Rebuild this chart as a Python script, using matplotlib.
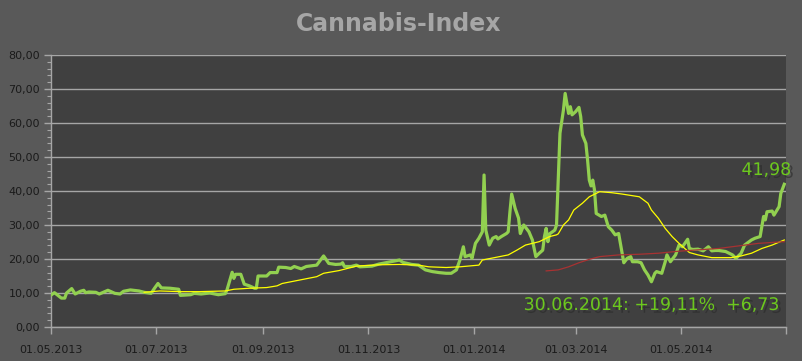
import matplotlib
matplotlib.use('Agg')
import matplotlib.pyplot as plt
import matplotlib.patheffects as pe
import pandas as pd

# ---- data ----
index_dates = [
    "2013-05-01", "2013-05-03", "2013-05-07", "2013-05-09", "2013-05-10", "2013-05-13", "2013-05-15",
    "2013-05-18", "2013-05-20", "2013-05-21", "2013-05-23", "2013-05-27", "2013-05-29", "2013-06-03",
    "2013-06-07", "2013-06-10", "2013-06-12", "2013-06-16", "2013-06-21", "2013-06-24", "2013-06-28",
    "2013-06-30", "2013-07-02", "2013-07-04", "2013-07-09", "2013-07-14", "2013-07-15", "2013-07-21",
    "2013-07-23", "2013-07-27", "2013-08-01", "2013-08-06", "2013-08-10", "2013-08-11", "2013-08-14",
    "2013-08-15", "2013-08-16", "2013-08-19", "2013-08-21", "2013-08-24", "2013-08-27", "2013-08-28",
    "2013-08-29", "2013-09-03", "2013-09-05", "2013-09-09", "2013-09-10", "2013-09-14", "2013-09-17",
    "2013-09-19", "2013-09-23", "2013-09-26", "2013-10-02", "2013-10-06", "2013-10-09", "2013-10-13",
    "2013-10-16", "2013-10-17", "2013-10-18", "2013-10-22", "2013-10-25", "2013-10-27", "2013-11-03",
    "2013-11-07", "2013-11-13", "2013-11-19", "2013-11-21", "2013-11-26", "2013-11-30", "2013-12-04",
    "2013-12-08", "2013-12-12", "2013-12-16", "2013-12-19", "2013-12-22", "2013-12-24", "2013-12-26",
    "2013-12-27", "2013-12-30", "2013-12-31", "2014-01-02", "2014-01-04", "2014-01-06", "2014-01-07",
    "2014-01-08", "2014-01-10", "2014-01-12", "2014-01-14", "2014-01-15", "2014-01-17", "2014-01-20",
    "2014-01-21", "2014-01-22", "2014-01-23", "2014-01-25", "2014-01-27", "2014-01-28", "2014-01-30",
    "2014-02-02", "2014-02-04", "2014-02-06", "2014-02-08", "2014-02-10", "2014-02-11", "2014-02-12",
    "2014-02-13", "2014-02-14", "2014-02-17", "2014-02-18", "2014-02-19", "2014-02-20", "2014-02-22",
    "2014-02-23", "2014-02-25", "2014-02-26", "2014-02-27", "2014-03-01", "2014-03-03", "2014-03-04",
    "2014-03-05", "2014-03-07", "2014-03-08", "2014-03-09", "2014-03-10", "2014-03-11", "2014-03-12",
    "2014-03-13", "2014-03-16", "2014-03-18", "2014-03-20", "2014-03-22", "2014-03-24", "2014-03-26",
    "2014-03-28", "2014-03-29", "2014-03-31", "2014-04-02", "2014-04-03", "2014-04-06", "2014-04-08",
    "2014-04-10", "2014-04-12", "2014-04-14", "2014-04-16", "2014-04-17", "2014-04-20", "2014-04-22",
    "2014-04-23", "2014-04-25", "2014-04-28", "2014-04-30", "2014-05-02", "2014-05-05", "2014-05-06",
    "2014-05-08", "2014-05-11", "2014-05-14", "2014-05-17", "2014-05-19", "2014-05-21", "2014-05-23",
    "2014-05-27", "2014-05-31", "2014-06-02", "2014-06-03", "2014-06-05", "2014-06-07", "2014-06-11",
    "2014-06-13", "2014-06-16", "2014-06-17", "2014-06-18", "2014-06-19", "2014-06-20", "2014-06-23",
    "2014-06-24", "2014-06-27", "2014-06-28", "2014-06-30",
]
index_values = [
    9.4, 10.1, 8.5, 8.5, 10.0, 11.3, 9.7,
    10.5, 10.8, 10.1, 10.3, 10.2, 9.7, 10.8,
    9.9, 9.7, 10.5, 10.9, 10.6, 10.2, 9.9,
    11.4, 12.8, 11.5, 11.4, 11.1, 9.3, 9.5,
    9.9, 9.7, 10.0, 9.5, 9.8, 10.9, 16.1,
    14.3, 15.5, 15.5, 12.6, 12.1, 11.4, 11.4,
    15.0, 15.0, 16.0, 16.0, 17.6, 17.5, 17.2,
    17.8, 17.1, 17.8, 18.2, 20.9, 18.7, 18.4,
    18.5, 18.9, 17.8, 17.8, 18.2, 17.7, 17.9,
    18.5, 19.1, 19.7, 19.0, 18.4, 18.2, 16.8,
    16.3, 16.0, 15.8, 15.8, 16.8, 19.7, 23.6,
    20.7, 21.2, 20.2, 24.6, 26.1, 28.0, 44.7,
    28.5, 24.1, 26.1, 26.6, 25.9, 26.6, 27.5,
    28.0, 33.9, 39.1, 34.9, 32.0, 27.5, 30.0,
    28.0, 25.6, 20.7, 21.7, 22.6, 26.6, 29.0,
    25.1, 27.4, 28.5, 30.0, 43.2, 57.0, 63.8,
    68.7, 62.8, 64.8, 62.4, 63.3, 64.6, 61.9,
    56.5, 54.0, 49.1, 43.2, 41.5, 43.2, 40.3,
    33.4, 32.5, 32.9, 29.5, 28.5, 27.1, 27.5,
    21.7, 18.9, 20.2, 20.7, 19.2, 19.2, 18.9,
    16.8, 15.3, 13.3, 15.8, 16.3, 15.8, 19.2,
    21.2, 19.2, 21.2, 24.1, 23.6, 25.8, 23.1,
    22.8, 22.9, 22.4, 23.6, 22.4, 22.5, 22.5,
    22.2, 21.2, 20.2, 20.7, 21.7, 24.1, 25.6,
    26.1, 26.6, 29.5, 32.5, 31.5, 33.9, 34.1,
    32.9, 35.4, 39.3, 41.98,
]

ma_short_dates = [
    "2013-06-24", "2013-07-03", "2013-07-15", "2013-07-26", "2013-08-10", "2013-08-15", "2013-08-24",
    "2013-09-03", "2013-09-09", "2013-09-12", "2013-09-22", "2013-10-02", "2013-10-06", "2013-10-15",
    "2013-10-25", "2013-11-07", "2013-11-19", "2013-11-30", "2013-12-06", "2013-12-16", "2013-12-24",
    "2014-01-04", "2014-01-06", "2014-01-16", "2014-01-21", "2014-01-26", "2014-01-31", "2014-02-08",
    "2014-02-14", "2014-02-18", "2014-02-19", "2014-02-22", "2014-02-25", "2014-02-28", "2014-03-05",
    "2014-03-09", "2014-03-15", "2014-03-22", "2014-03-28", "2014-04-07", "2014-04-12", "2014-04-14",
    "2014-04-18", "2014-04-22", "2014-04-26", "2014-04-30", "2014-05-06", "2014-05-11", "2014-05-19",
    "2014-05-30", "2014-06-05", "2014-06-11", "2014-06-17", "2014-06-23", "2014-06-30",
]
ma_short_values = [
    10.2, 10.6, 10.4, 10.4, 10.6, 11.1, 11.4,
    11.6, 12.1, 12.8, 13.8, 14.8, 15.8, 16.6,
    17.9, 18.3, 18.4, 18.2, 17.7, 17.5, 17.7,
    18.2, 19.7, 20.7, 21.2, 22.6, 24.1, 25.1,
    26.6, 27.1, 27.4, 30.0, 31.5, 34.4, 36.4,
    38.3, 39.8, 39.5, 39.1, 38.3, 36.4, 34.4,
    32.0, 29.0, 26.6, 24.6, 21.9, 21.2, 20.4,
    20.4, 20.9, 21.7, 23.1, 24.1, 25.6,
]

ma_long_dates = [
    "2014-02-12", "2014-02-19", "2014-02-25", "2014-03-03", "2014-03-09", "2014-03-15", "2014-03-26",
    "2014-04-07", "2014-04-18", "2014-04-30", "2014-05-23", "2014-06-15", "2014-06-30",
]
ma_long_values = [
    16.5, 16.8, 17.7, 18.9, 19.9, 20.7, 21.2,
    21.4, 21.7, 22.3, 23.1, 24.6, 25.1,
]

x_tick_dates = ["2013-05-01", "2013-07-01", "2013-09-01", "2013-11-01",
                "2014-01-01", "2014-03-01", "2014-05-01", "2014-07-01"]
x_tick_labels = ["01.05.2013", "01.07.2013", "01.09.2013", "01.11.2013",
                 "01.01.2014", "01.03.2014", "01.05.2014", ""]
y_ticks = [0, 10, 20, 30, 40, 50, 60, 70, 80]
y_tick_labels = ["0,00", "10,00", "20,00", "30,00", "40,00", "50,00", "60,00", "70,00", "80,00"]

title_text = "Cannabis-Index"
last_value_text = "41,98"
summary_text = "30.06.2014: +19,11%  +6,73"

# ---- figure ----
W, H = 802, 361
fig = plt.figure(figsize=(W / 100, H / 100), dpi=100, facecolor='#595959')
ax = fig.add_axes([51 / W, 34 / H, 735 / W, 272 / H])
ax.set_facecolor('#404040')

ax.plot(pd.to_datetime(index_dates), index_values, color='#92d050', lw=2.3,
        solid_joinstyle='round', zorder=3)
ax.plot(pd.to_datetime(ma_short_dates), ma_short_values, color='#ffff00', lw=0.9, zorder=4)
ax.plot(pd.to_datetime(ma_long_dates), ma_long_values, color='#a83232', lw=0.9, zorder=4)

ax.set_xlim(pd.Timestamp(x_tick_dates[0]), pd.Timestamp(x_tick_dates[-1]))
ax.set_ylim(y_ticks[0], y_ticks[-1])

ax.set_xticks(pd.to_datetime(x_tick_dates))
ax.set_xticklabels(x_tick_labels)
ax.set_yticks(y_ticks)
ax.set_yticklabels(y_tick_labels)
ax.set_yticks(range(0, 81, 2), minor=True)

grid_c = '#a6a6a6'
ax.yaxis.grid(True, color=grid_c, lw=1.0, zorder=1)
ax.set_axisbelow(True)
for s in ['top', 'right']:
    ax.spines[s].set_visible(False)
for s in ['left', 'bottom']:
    ax.spines[s].set_color(grid_c)
    ax.spines[s].set_linewidth(1.0)

ax.tick_params(axis='both', which='major', colors=grid_c, labelcolor='#1a1a1a',
               labelsize=8, length=5, width=1, direction='out')
ax.tick_params(axis='y', which='minor', colors=grid_c, length=3, width=0.8, direction='out')
ax.tick_params(axis='x', pad=8)
ax.tick_params(axis='y', pad=3)

fig.text(399 / W, 1 - 24 / H, title_text, ha='center', va='center',
         fontsize=17, fontweight='bold', color='#a6a6a6')

shadow = [pe.withSimplePatchShadow(offset=(2, -2), shadow_rgbFace='#2a2a2a', alpha=0.6)]
fig.text(791 / W, 1 - 170 / H, last_value_text, ha='right', va='center',
         fontsize=12.5, color='#6cc81e', path_effects=shadow)
fig.text(779 / W, 1 - 305 / H, summary_text, ha='right', va='center',
         fontsize=12.5, color='#6cc81e', path_effects=shadow)

fig.savefig('out.png', dpi=100, facecolor=fig.get_facecolor())
